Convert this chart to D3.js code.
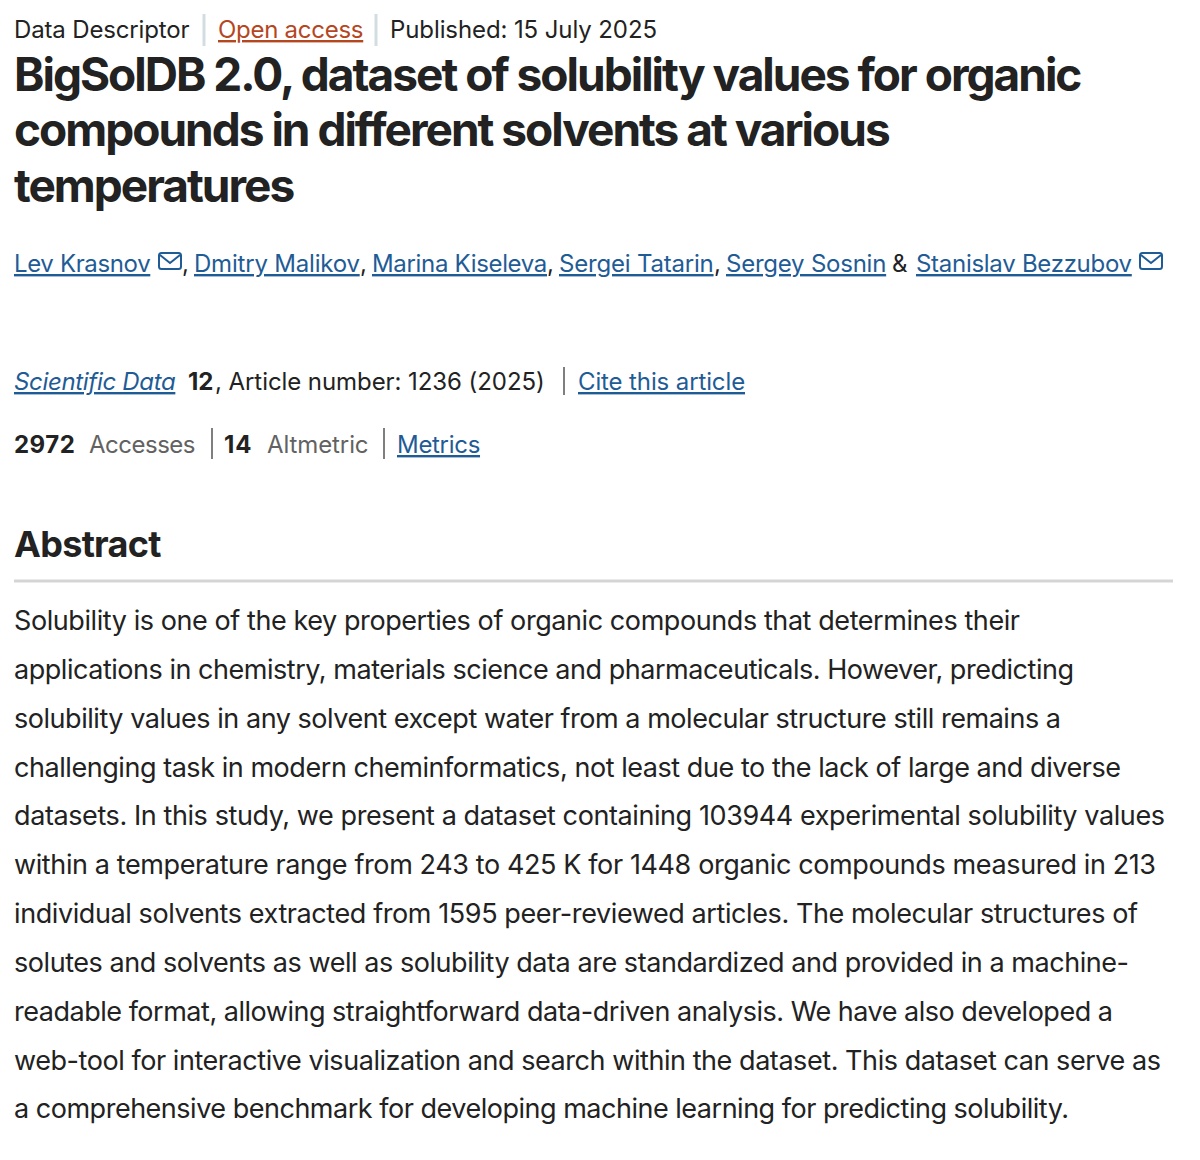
<!DOCTYPE html>
<html><head><meta charset="utf-8">
<script src="https://cdn.jsdelivr.net/npm/d3@7"></script>
<style>html,body{margin:0;padding:0;background:#fff}svg{display:block}text{font-family:Inter,"Liberation Sans",sans-serif;white-space:pre}</style>
</head><body><div id="c"></div>
<script>
const titleLines=["BigSolDB 2.0, dataset of solubility values for organic","compounds in different solvents at various","temperatures"];
const titleBaselines=[91,146,202];
const abstractLines=["Solubility is one of the key properties of organic compounds that determines their",
"applications in chemistry, materials science and pharmaceuticals. However, predicting",
"solubility values in any solvent except water from a molecular structure still remains a",
"challenging task in modern cheminformatics, not least due to the lack of large and diverse",
"datasets. In this study, we present a dataset containing 103944 experimental solubility values",
"within a temperature range from 243 to 425 K for 1448 organic compounds measured in 213",
"individual solvents extracted from 1595 peer-reviewed articles. The molecular structures of",
"solutes and solvents as well as solubility data are standardized and provided in a machine-",
"readable format, allowing straightforward data-driven analysis. We have also developed a",
"web-tool for interactive visualization and search within the dataset. This dataset can serve as",
"a comprehensive benchmark for developing machine learning for predicting solubility."];
const abstractBaselines=[630,679,728,777,825,874,923,972,1021,1070,1118];
const abstractWidths=[1006,1060,1047,1107,1151,1142,1124,1115,1099,1147,1055];
const dark="#222222",blue="#1f5c96",grey="#626262",rust="#b5471f",rule="#d3dde1";
// [text,x,y,size,colour,weight,underline,italic,letterSpacing]
const runs=[
["Data Descriptor",14,38,24,dark,400,0,0,-0.15],
["Open access",218,38,24,rust,400,1,0,-0.27],
["Published: 15 July 2025",390,38,24,dark,400,0,0,-0.1],
["Lev Krasnov",14,272,24,blue,400,1,0,-0.36],
[",",182,272,24,dark,400,0,0,0],
["Dmitry Malikov",194,272,24,blue,400,1,0,-0.2],
[",",360,272,24,dark,400,0,0,0],
["Marina Kiseleva",372,272,24,blue,400,1,0,-0.33],
[",",547,272,24,dark,400,0,0,0],
["Sergei Tatarin",559,272,24,blue,400,1,0,-0.2],
[",",714,272,24,dark,400,0,0,0],
["Sergey Sosnin",726,272,24,blue,400,1,0,-0.23],
["&",892,272,24,dark,400,0,0,0],
["Stanislav Bezzubov",916,272,24,blue,400,1,0,-0.28],
["Scientific Data",14,390,24,blue,400,1,1,-0.33],
["12",188,390,24,dark,700,0,0,0],
[", Article number: 1236 (2025)",215,390,24,dark,400,0,0,-0.07],
["Cite this article",578,390,24,blue,400,1,0,-0.12],
["2972",14,453,24,dark,700,0,0,0.5],
["Accesses",89,453,24,grey,400,0,0,-0.5],
["14",224,453,24,dark,700,0,0,1],
["Altmetric",267,453,24,grey,400,0,0,-0.1],
["Metrics",397,453,24,blue,400,1,0,-0.3]
];
const svg=d3.select("#c").append("svg").attr("width",1200).attr("height",1160);
svg.selectAll(".r").data(runs).join("text").attr("class","r")
 .attr("x",d=>d[1]).attr("y",d=>d[2]).attr("font-size",d=>d[3]).attr("fill",d=>d[4])
 .attr("font-weight",d=>d[5]).attr("text-decoration",d=>d[6]?"underline":null)
 .attr("font-style",d=>d[7]?"italic":null).attr("letter-spacing",d=>d[8]).text(d=>d[0]);
svg.selectAll(".t").data(titleLines).join("text").attr("class","t").attr("x",14)
 .attr("y",(d,i)=>titleBaselines[i]).attr("font-size",46).attr("font-weight",700)
 .attr("letter-spacing",-2).attr("fill",dark).text(d=>d);
svg.append("text").attr("x",14).attr("y",557).attr("font-size",36).attr("font-weight",700).attr("letter-spacing",-0.7).attr("fill",dark).text("Abstract");
svg.selectAll(".a").data(abstractLines).join("text").attr("class","a").attr("x",14)
 .attr("y",(d,i)=>abstractBaselines[i]).attr("font-size",27).attr("fill",dark)
 .attr("textLength",(d,i)=>abstractWidths[i]).attr("lengthAdjust","spacing").text(d=>d);
// rules: [x1,y1,x2,y2,colour,width]
const rules=[[204,14,204,46,rule,3],[376,14,376,46,rule,3],[564,367,564,395,"#555",1.5],[212,428,212,459,"#555",1.5],[384,428,384,459,"#555",1.5],[14,581,1173,581,"#d5d5d5",3]];
svg.selectAll("line").data(rules).join("line").attr("x1",d=>d[0]).attr("y1",d=>d[1]).attr("x2",d=>d[2]).attr("y2",d=>d[3]).attr("stroke",d=>d[4]).attr("stroke-width",d=>d[5]);
// envelope icons
const icons=[158,1139];
const g=svg.selectAll(".i").data(icons).join("g").attr("class","i").attr("transform",d=>`translate(${d},252)`);
g.append("rect").attr("x",1).attr("y",1).attr("width",22).attr("height",16).attr("rx",2.5).attr("fill","none").attr("stroke",blue).attr("stroke-width",2);
g.append("path").attr("d",d3.line()([[2,3],[12,11],[22,3]])).attr("fill","none").attr("stroke",blue).attr("stroke-width",2);
</script></body></html>
